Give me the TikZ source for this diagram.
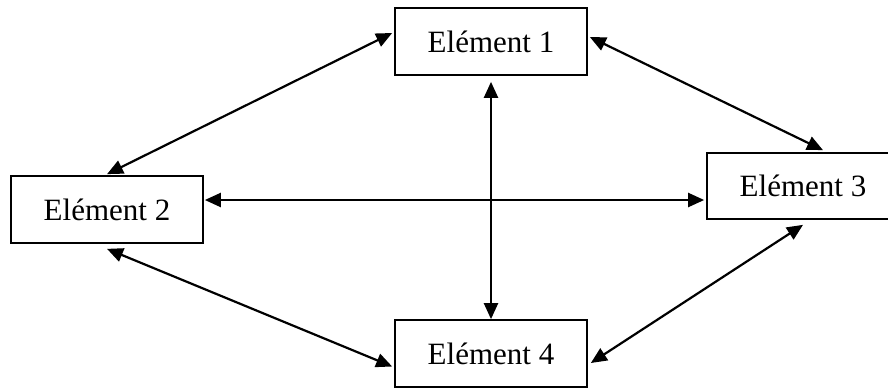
\documentclass[tikz,border=0pt]{standalone}
\usepackage{fontspec}
\setmainfont{Liberation Serif}
\usetikzlibrary{arrows.meta}
\begin{document}
\begin{tikzpicture}[x=1pt,y=-1pt,
  elbox/.style={draw,line width=1.7pt,minimum width=192pt,minimum height=67pt,inner sep=0pt,
    font=\fontsize{31}{37}\selectfont},
  link/.style={line width=2.2pt,{Triangle[length=16pt,width=14pt]}-{Triangle[length=16pt,width=14pt]}}]
\useasboundingbox (0,0) rectangle (888,389);
\clip (0,0) rectangle (888,389);
\fill[white] (0,0) rectangle (888,389);
\node[elbox] (e1) at (491,41.5) {Elément 1};
\node[elbox] (e2) at (107,209.5) {Elément 2};
\node[elbox,minimum height=66pt] (e3) at (803,186) {Elément 3};
\node[elbox] (e4) at (491,353.5) {Elément 4};
\draw[link] ([xshift=-2pt,yshift=8.5pt]e1.west) -- ([yshift=1pt]e2.north);
\draw[link] ([xshift=2pt,yshift=4.5pt]e1.east) -- ([xshift=20pt,yshift=2pt]e3.north);
\draw[link] ([yshift=-6pt]e1.south) -- (e4.north);
\draw[link] ([xshift=1pt,yshift=9.5pt]e2.east) -- ([xshift=-2pt,yshift=-14pt]e3.west);
\draw[link] ([yshift=-5pt]e2.south) -- ([xshift=-2pt,yshift=-13pt]e4.west);
\draw[link] ([yshift=-5pt]e3.south) -- ([xshift=3pt,yshift=-9.5pt]e4.east);
\end{tikzpicture}
\end{document}
